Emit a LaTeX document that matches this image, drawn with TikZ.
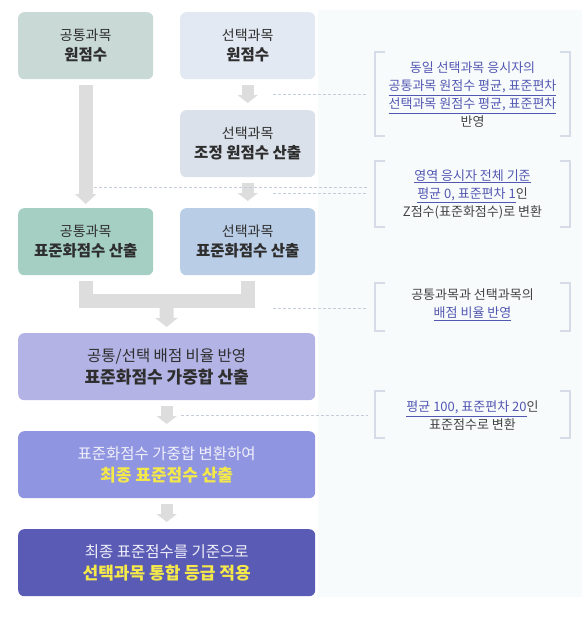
\documentclass[tikz,border=0pt]{standalone}
\usepackage{fontspec}
\setmainfont{Noto Sans CJK KR}
\usetikzlibrary{arrows.meta}
\definecolor{panelbg}{HTML}{F8FBFC}
\definecolor{cA}{HTML}{C9D9D6}
\definecolor{cB}{HTML}{E3E9F2}
\definecolor{cC}{HTML}{DAE1EA}
\definecolor{cD}{HTML}{A6CFC4}
\definecolor{cE}{HTML}{BACDE7}
\definecolor{cF}{HTML}{B3B3E5}
\definecolor{cG}{HTML}{8F95E1}
\definecolor{cH}{HTML}{5A5BB5}
\definecolor{arr}{HTML}{DDDDDD}
\definecolor{dash}{HTML}{C5CDD9}
\definecolor{brk}{HTML}{D6DCE7}
\definecolor{noteblue}{HTML}{5257B2}
\definecolor{txt}{HTML}{2E2E2E}
\definecolor{ntxt}{HTML}{444444}
\definecolor{yel}{HTML}{F5E94A}
\definecolor{wtxt}{HTML}{F0F0FA}
\newcommand\bl[1]{\textcolor{noteblue}{\underline{#1}}}
\begin{document}
\begin{tikzpicture}[x=1pt,y=-1pt,
  box/.style={rounded corners=6pt, inner sep=0pt, anchor=north west, align=center, text=txt,
    minimum height=67pt, font=\fontsize{14}{20}\selectfont},
  smallbox/.style={box, minimum width=135pt},
  widebox/.style={box, minimum width=297pt, font=\fontsize{15.5}{21.5}\selectfont},
  sb/.style={},
  fat/.style={draw=arr, line width=12pt, -{Triangle[width=20pt,length=8pt]}, shorten <=6pt, shorten >=7pt},
  dashline/.style={draw=dash, line width=0.8pt, dash pattern=on 3pt off 2pt},
  bracket/.style={draw=brk, line width=1.2pt},
  note/.style={align=center, text=ntxt, font=\fontsize{13}{18}\selectfont, inner sep=0pt}]
\useasboundingbox (0,0) rectangle (582,631);
\fill[panelbg] (318,10) rectangle (582,597);

% boxes
\node[smallbox, fill=cA] (b1) at (18,12) {공통과목\\{\bfseries\fontsize{15.5}{20}\selectfont 원점수}};
\node[smallbox, fill=cB] (b2) at (180,12) {선택과목\\{\bfseries\fontsize{15.5}{20}\selectfont 원점수}};
\node[smallbox, fill=cC] (b3) at (180,110) {선택과목\\{\bfseries\fontsize{15.5}{20}\selectfont 조정 원점수 산출}};
\node[smallbox, fill=cD] (b4) at (18,208) {공통과목\\{\bfseries\fontsize{15.5}{20}\selectfont 표준화점수 산출}};
\node[smallbox, fill=cE] (b5) at (180,208) {선택과목\\{\bfseries\fontsize{15.5}{20}\selectfont 표준화점수 산출}};
\node[widebox, fill=cF] (b6) at (18,333) {공통/선택 배점 비율 반영\\{\bfseries\fontsize{17}{21.5}\selectfont 표준화점수 가중합 산출}};
\node[widebox, fill=cG, text=wtxt] (b7) at (18,431) {표준화점수 가중합 변환하여\\{\bfseries\fontsize{17}{21.5}\selectfont\color{yel} 최종 표준점수 산출}};
\node[widebox, fill=cH, text=wtxt] (b8) at (18,529) {최종 표준점수를 기준으로\\{\bfseries\fontsize{17}{21.5}\selectfont\color{yel} 선택과목 통합 등급 적용}};

% connectors
\draw[fat] (b2.south) -- (b3.north);
\draw[fat] (b3.south) -- (b5.north);
\draw[fat, line width=14pt, -{Triangle[width=21pt,length=10pt]}, shorten >=4pt] (b1.south) -- (b4.north);
\coordinate (m) at (166.5,301);
\draw[draw=arr, line width=14pt, line join=miter, shorten <=6pt] (b4.south) -- (b4.south |- m) coordinate (ml) -- (b5.south |- m) coordinate (mr) -- ([yshift=-6pt]b5.south);
\draw[fat, line width=14pt, -{Triangle[width=22pt,length=9pt]}, shorten <=0pt, shorten >=6pt] (m) -- (b6.north);
\draw[fat] (b6.south) -- (b7.north);
\draw[fat] (b7.south) -- (b8.north);

% notes
\node[note] (n1) at (472.5,95) {\textcolor{noteblue}{동일 선택과목 응시자의}\\\bl{공통과목 원점수 평균, 표준편차}\\\bl{선택과목 원점수 평균, 표준편차}\\반영};
\node[note] (n2) at (472.5,194) {\bl{영역 응시자 전체 기준}\\\bl{평균 0, 표준편차 1}인\\Z점수(표준화점수)로 변환};
\node[note] (n3) at (472.5,305) {공통과목과 선택과목의\\\bl{배점 비율 반영}};
\node[note] (n4) at (472.5,416) {\bl{평균 100, 표준편차 20}인\\표준점수로 변환};

% brackets
\foreach \t/\b in {52/136, 161/227, 283/331, 391/438}{
  \draw[bracket] (385,\t) -- (375,\t) -- (375,\b) -- (385,\b);
  \draw[bracket] (560,\t) -- (570,\t) -- (570,\b) -- (560,\b);
}

% dashed leaders
\coordinate (e1) at (368,94);  \coordinate (s1) at (273,94);
\coordinate (e2) at (368,193); \coordinate (s2) at (273,193);
\coordinate (e0) at (368,187); \coordinate (s0) at (94,187);
\coordinate (e3) at (368,308); \coordinate (s3) at (273,308);
\coordinate (e4) at (368,415); \coordinate (s4) at (181,415);
\draw[dashline] (s1) -- (e1);
\draw[dashline] (s0) -- (e0);
\draw[dashline] (s2) -- (e2);
\draw[dashline] (s3) -- (e3);
\draw[dashline] (s4) -- (e4);
\end{tikzpicture}
\end{document}
